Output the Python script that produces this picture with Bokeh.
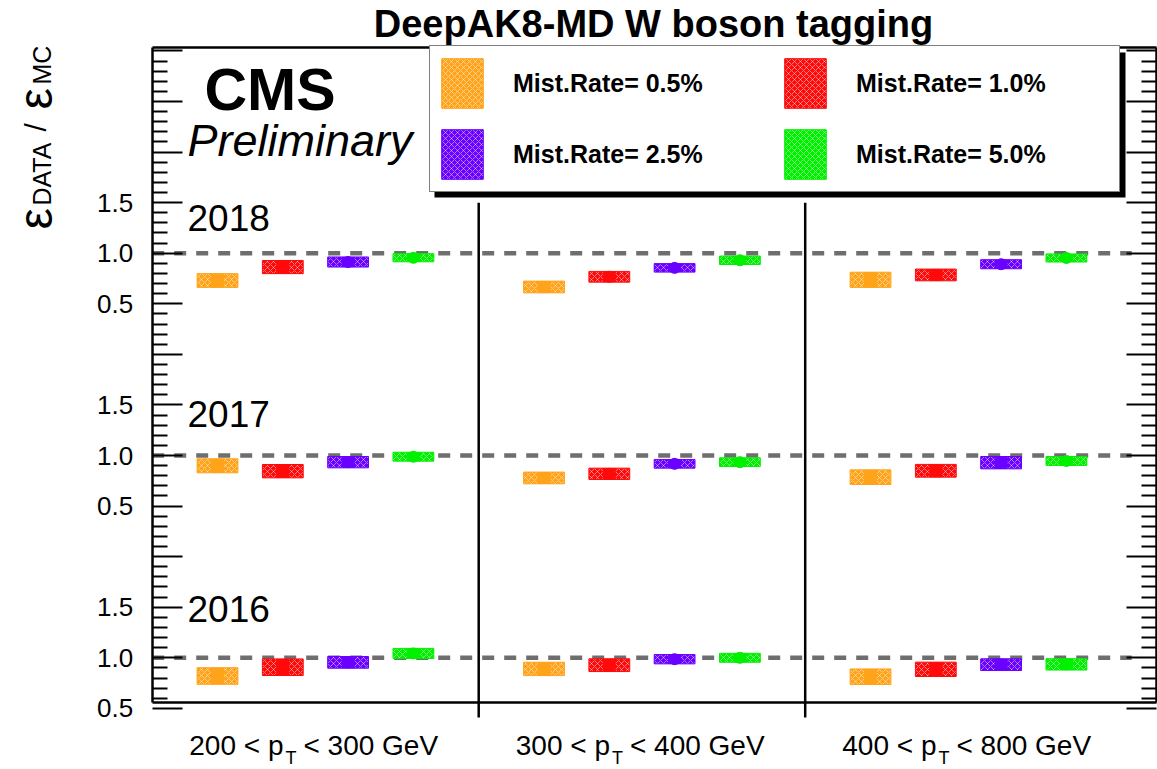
import math
from bokeh.plotting import figure
from bokeh.models import (Range1d, LinearAxis, FixedTicker, Label, Legend,
                          LegendItem, BoxAnnotation, ColumnDataSource)
from bokeh.embed import file_html
from bokeh.resources import INLINE

# ---------------- data ----------------
years = ["2016", "2017", "2018"]
pt_low = ["200", "300", "400"]
pt_high = ["300", "400", "800"]
series_labels = ["Mist.Rate= 0.5%", "Mist.Rate= 1.0%",
                 "Mist.Rate= 2.5%", "Mist.Rate= 5.0%"]
colors = ["#ffa31a", "#ff0a0a", "#6a00ff", "#00f000"]

# scale factors per mistag rate (rows) and pT bin (columns)
sf_2016 = [[0.820, 0.890, 0.813],
           [0.907, 0.927, 0.886],
           [0.955, 0.986, 0.932],
           [1.043, 1.000, 0.935]]
err_2016 = [[0.082, 0.066, 0.077],
            [0.082, 0.063, 0.071],
            [0.058, 0.046, 0.058],
            [0.050, 0.044, 0.056]]
sf_2017 = [[0.898, 0.778, 0.786],
           [0.845, 0.819, 0.849],
           [0.934, 0.918, 0.929],
           [0.988, 0.934, 0.946]]
err_2017 = [[0.069, 0.058, 0.072],
            [0.066, 0.056, 0.063],
            [0.056, 0.043, 0.061],
            [0.044, 0.043, 0.044]]
sf_2018 = [[0.730, 0.666, 0.737],
           [0.863, 0.767, 0.785],
           [0.913, 0.855, 0.891],
           [0.955, 0.930, 0.953]]
err_2018 = [[0.068, 0.058, 0.075],
            [0.065, 0.053, 0.058],
            [0.050, 0.042, 0.045],
            [0.040, 0.042, 0.040]]

sf_by_year = [sf_2016, sf_2017, sf_2018]
err_by_year = [err_2016, err_2017, err_2018]
panel_tick_labels = ["0.5", "1.0", "1.5"]

# ---------------- geometry helpers (canvas px -> data) ----------------
W, H = 1157, 769
PX_X = 326.5      # px per pT bin
PX_Y = 101.15     # px per unit of ratio
FR_L = 151.7      # px of x = 0
Y0_PX = 758.45    # px of stacked y = 0


def dx(px):
    return (px - FR_L) / PX_X


def dy(py):
    return (Y0_PX - py) / PX_Y


X_R = dx(1155.5)          # right edge of the drawn frame
Y_START, Y_END = dy(702), dy(46.7)
PANEL_OFFSET = 2.0
FONT = "Liberation Sans"
DESC = 0.19               # descent as a fraction of the font size

p = figure(width=W, height=H, output_backend="svg", toolbar_location=None,
           x_range=Range1d(dx(0), dx(W)), y_range=Range1d(dy(H), dy(0)),
           title=None, min_border=0, min_border_left=0, min_border_right=0,
           min_border_top=0, min_border_bottom=0,
           background_fill_color="white", border_fill_color="white")
p.xgrid.visible = False
p.ygrid.visible = False
p.xaxis.visible = False
p.yaxis.visible = False
p.outline_line_color = None

# ---------------- axes (fixed at the frame edges) ----------------
major = [0.5 * k for k in range(1, 15)]
minor = [round(0.1 * k, 1) for k in range(6, 71) if k % 5 != 0]
overrides = {t: "" for t in major}
for k in range(len(years)):
    for lab in panel_tick_labels:
        overrides[float(lab) + PANEL_OFFSET * k] = lab

left = LinearAxis(ticker=FixedTicker(ticks=major, minor_ticks=minor),
                  major_label_overrides=overrides, fixed_location=0,
                  bounds=(Y_START, Y_END))
right = LinearAxis(ticker=FixedTicker(ticks=major, minor_ticks=minor),
                   major_label_overrides={t: "" for t in major},
                   major_label_text_font_size="0px", major_label_standoff=0,
                   fixed_location=X_R, bounds=(Y_START, Y_END))
for ax in (left, right):
    ax.major_tick_in = 30
    ax.major_tick_out = 0
    ax.minor_tick_in = 15
    ax.minor_tick_out = 0
    ax.major_tick_line_width = 2
    ax.minor_tick_line_width = 2
    ax.axis_line_width = 2.5
    ax.major_tick_line_color = "black"
    ax.minor_tick_line_color = "black"
left.major_label_text_font = FONT
left.major_label_text_font_size = "26px"
left.major_label_text_color = "black"
left.major_label_standoff = 19
p.add_layout(left, "left")
p.add_layout(right, "right")

for loc, side in ((Y_START, "below"), (Y_END, "above")):
    ax = LinearAxis(ticker=FixedTicker(ticks=[], minor_ticks=[]),
                    fixed_location=loc, bounds=(0, X_R),
                    major_label_text_font_size="0px")
    ax.axis_line_width = 2.5
    ax.major_tick_line_color = None
    ax.minor_tick_line_color = None
    p.add_layout(ax, side)

# ---------------- reference lines and separators ----------------
p.segment(x0=[0] * 3, x1=[3] * 3,
          y0=[1 + PANEL_OFFSET * k for k in range(3)],
          y1=[1 + PANEL_OFFSET * k for k in range(3)],
          line_color="#6e6e6e", line_width=4.5, line_dash="12 10")
p.segment(x0=[1, 2], x1=[1, 2], y0=[dy(717)] * 2, y1=[5.5, 5.5],
          line_color="black", line_width=2.5)

# ---------------- boxes and markers ----------------
BOX_W = 0.125
box_renderers = []
for j, (lab, col) in enumerate(zip(series_labels, colors)):
    xs, ys, es = [], [], []
    for k in range(len(years)):
        for i in range(len(pt_low)):
            xs.append(i + 0.2 * (j + 1))
            ys.append(sf_by_year[k][j][i] + PANEL_OFFSET * k)
            es.append(err_by_year[k][j][i])
    src = ColumnDataSource(dict(
        x=xs, y=ys,
        left=[x - BOX_W / 2 for x in xs], right=[x + BOX_W / 2 for x in xs],
        top=[y + e for y, e in zip(ys, es)], bottom=[y - e for y, e in zip(ys, es)],
        h=[2 * e for e in es]))
    r = p.quad(left="left", right="right", top="top", bottom="bottom", source=src,
               fill_color=col, fill_alpha=1.0, line_color=col, line_width=1,
               hatch_pattern="diagonal_cross", hatch_color="white",
               hatch_scale=6, hatch_weight=1, hatch_alpha=0.45)
    box_renderers.append(r)
    p.rect(x="x", y="y", width=0.04, height="h", source=src,
           fill_color=col, line_color=None)
    p.scatter(x="x", y="y", source=src, marker="circle", size=11,
              fill_color=col, line_color=col)

# ---------------- legend ----------------
shadow = BoxAnnotation(left=dx(434), right=dx(1125), top=dy(52), bottom=dy(197),
                       fill_color="black", fill_alpha=1.0, line_color=None)
p.add_layout(shadow)

legend = Legend(items=[LegendItem(label=l, renderers=[r])
                       for l, r in zip(series_labels, box_renderers)],
                location=(429, H - 192), orientation="horizontal",
                ncols=2, glyph_width=52, glyph_height=62, label_standoff=25,
                label_width=257, spacing=9, padding=6,
                label_text_font=FONT, label_text_font_style="bold",
                label_text_font_size="25px", label_text_color="black",
                border_line_color="black", border_line_width=1.5,
                background_fill_color="white", background_fill_alpha=1.0)
p.add_layout(legend)


# ---------------- texts ----------------
def add_text(x_px, base_px, text, size, style="normal", align="left"):
    """Place text with its alphabetic baseline at base_px (canvas px)."""
    p.add_layout(Label(x=dx(x_px), y=dy(base_px + DESC * size), text=text,
                       text_align=align, text_baseline="bottom", text_font=FONT,
                       text_font_style=style, text_font_size=f"{size}px",
                       text_color="black"))


add_text(653, 37, "DeepAK8-MD W boson tagging", 38, "bold", "center")
add_text(204, 111.7, "CMS", 59, "bold")
add_text(187, 157, "Preliminary", 45, "italic")

year_baselines = [614, 419, 223]
for yr, b in zip(years, year_baselines):
    add_text(187, b, yr, 37)

for i in range(len(pt_low)):
    c_px = FR_L + (i + 0.5) * PX_X
    add_text(c_px - 32.0, 755, f"{pt_low[i]} < p", 28, align="right")
    add_text(c_px - 30.0, 764, "T", 18)
    add_text(c_px - 12.0, 755, f"< {pt_high[i]} GeV", 28)

# rotated y title: eps_DATA / eps_MC  (x = ink centre, y = start of the text)
ytitle = [("ε", 35, 229, "48px"), ("DATA", 41, 205, "25px"), ("/", 35, 131, "30px"),
          ("ε", 35, 109, "48px"), ("MC", 41.5, 84, "25px")]
for txt, cx, sy, fs in ytitle:
    p.add_layout(Label(x=dx(cx), y=dy(sy), text=txt, text_align="left",
                       text_baseline="middle", angle=math.pi / 2, text_font=FONT,
                       text_font_size=fs, text_color="black"))

open("out.html", "w").write(file_html(p, INLINE))
